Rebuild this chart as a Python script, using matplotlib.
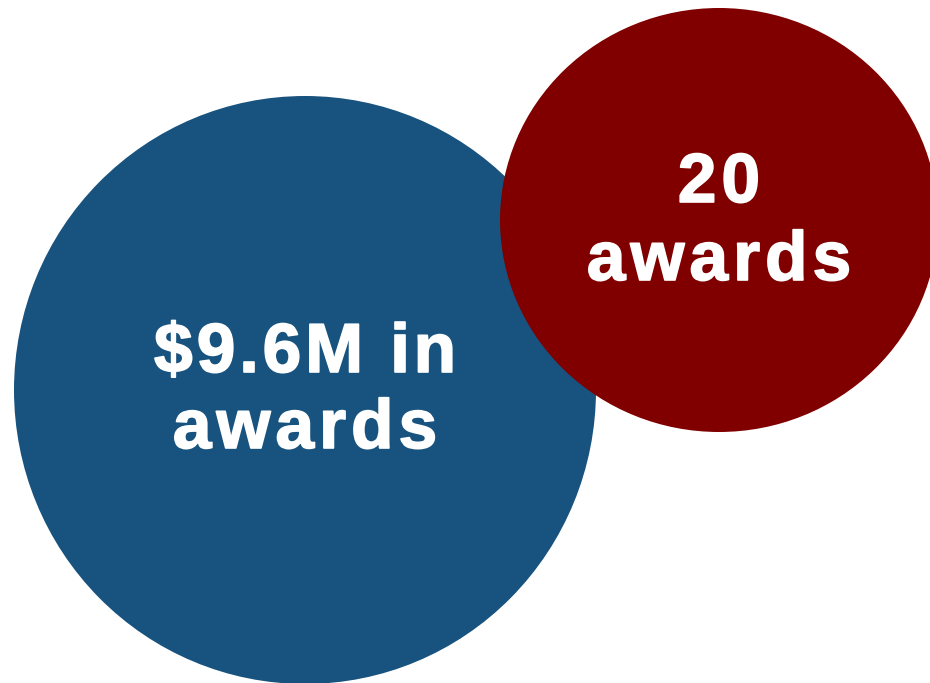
import matplotlib
matplotlib.use('Agg')
import matplotlib.pyplot as plt
from matplotlib.patches import Ellipse
from matplotlib.font_manager import FontProperties
import matplotlib.patheffects as pe

# bubble data (pixel space of the original graphic)
centers_x = [305, 719]
centers_y = [390, 220]
widths = [582, 438]
heights = [588, 424]
colors = ['#17537e', '#800000']
line1 = ['$9.6M in', '20']
line2 = ['awards', 'awards']
base1 = [372, 202]
base2 = [448, 280]
track1 = [4, 5]
track2 = [5, 5]

fig = plt.figure(figsize=(9.3, 6.83), dpi=100)
ax = fig.add_axes([0, 0, 1, 1])
ax.set_xlim(0, 930)
ax.set_ylim(683, 0)
ax.axis('off')

prop = FontProperties(family='Liberation Sans', weight='bold', size=50)
renderer = fig.canvas.get_renderer()
fx = [pe.withStroke(linewidth=1.2, foreground='white')]


def txt_w(s):
    return renderer.get_text_width_height_descent(s, prop, ismath=False)[0]


# letter-spaced text, centred on xc, sitting on baseline yb
def tracked(xc, yb, s, track=5):
    offs = [txt_w(s[:i] + 'H') - txt_w('H') if i else 0 for i in range(len(s))]
    offs = [o + track * i for i, o in enumerate(offs)]
    total = txt_w(s) + track * (len(s) - 1)
    x0 = xc - total / 2
    for ch, o in zip(s, offs):
        if ch == ' ':
            continue
        ax.text(x0 + o, yb, ch, color='white', fontproperties=prop,
                ha='left', va='baseline', path_effects=fx)


for i in range(len(colors)):
    ax.add_patch(Ellipse((centers_x[i], centers_y[i]), widths[i], heights[i],
                         facecolor=colors[i], edgecolor='none'))
    tracked(centers_x[i], base1[i], line1[i], track1[i])
    tracked(centers_x[i], base2[i], line2[i], track2[i])

fig.savefig('out.png', dpi=100)
